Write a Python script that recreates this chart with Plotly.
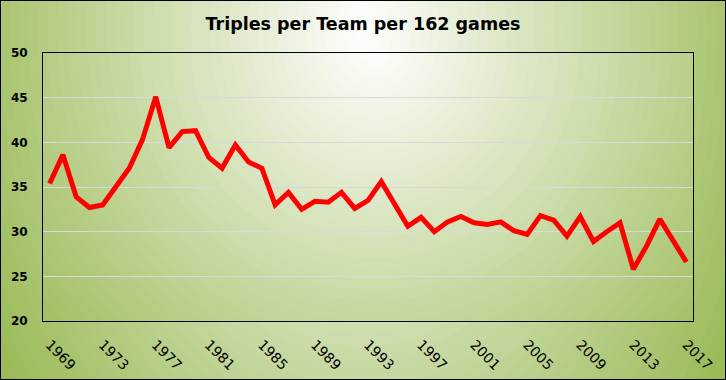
import plotly.graph_objects as go

years = list(range(1969, 2018))
triples = [35.4, 38.6, 33.9, 32.7, 33.0, 35.1, 37.1, 40.3, 45.1, 39.4,
           41.2, 41.3, 38.3, 37.1, 39.7, 37.8, 37.1, 33.0, 34.4, 32.5,
           33.4, 33.3, 34.4, 32.6, 33.5, 35.6, 33.0, 30.6, 31.6, 30.0,
           31.1, 31.7, 31.0, 30.8, 31.1, 30.1, 29.7, 31.8, 31.3, 29.5,
           31.7, 28.9, 30.0, 31.0, 25.8, 28.4, 31.4, 29.1, 26.6]
tick_years = list(range(1969, 2018, 4))
y_ticks = [20, 25, 30, 35, 40, 45, 50]
title_text = "Triples per Team per 162 games"

W, H = 726, 380
L, R, T, B = 43, 33, 53, 59
PW, PH = W - L - R, H - T - B
XMIN, XMAX = 1968.5, 2017.5
YMIN, YMAX = 20, 50

GREEN = (155, 187, 89)


def mix(t):
    t = max(0.0, min(1.0, t))
    c = [round(255 * (1 - t) + g * t) for g in GREEN]
    return "rgb(%d,%d,%d)" % tuple(c)


def px_to_paper(px, py):
    return (px - L) / PW, (H - B - py) / PH


def px_to_data(px, py):
    return XMIN + (px - L) / PW * (XMAX - XMIN), YMIN + (H - B - py) / PH * (YMAX - YMIN)


shapes = []
N = 45
# chart-area radial gradient (paper refs)
cx, cy, rx, ry = 363, 30, 430, 620
for k in range(N, 0, -1):
    t = k / N
    x0, y0 = px_to_paper(cx - rx * t, cy + ry * t)
    x1, y1 = px_to_paper(cx + rx * t, cy - ry * t)
    shapes.append(dict(type="circle", xref="paper", yref="paper", x0=x0, x1=x1, y0=y0, y1=y1,
                       fillcolor=mix(t), line=dict(width=0), layer="below"))

# plot-area radial gradient (data refs, clipped to plot area)
shapes.append(dict(type="rect", xref="x", yref="y", x0=XMIN, x1=XMAX, y0=YMIN, y1=YMAX,
                   fillcolor=mix(1), line=dict(width=0), layer="below"))
cx, cy, rx, ry = 375, 45, 460, 480
for k in range(N, 0, -1):
    t = k / N
    x0, y0 = px_to_data(cx - rx * t, cy + ry * t)
    x1, y1 = px_to_data(cx + rx * t, cy - ry * t)
    shapes.append(dict(type="circle", xref="x", yref="y", x0=x0, x1=x1, y0=y0, y1=y1,
                       fillcolor=mix(t), line=dict(width=0), layer="below"))

# outer border
shapes.append(dict(type="rect", xref="paper", yref="paper",
                   x0=-L / PW, x1=1 + R / PW, y0=-B / PH, y1=1 + T / PH,
                   line=dict(color="black", width=2), fillcolor="rgba(0,0,0,0)", layer="above"))

fig = go.Figure()
fig.add_trace(go.Scatter(x=years, y=triples, mode="lines",
                         line=dict(color="#FF0000", width=5), hoverinfo="x+y"))

fig.update_layout(
    width=W, height=H, autosize=False,
    margin=dict(l=L, r=R, t=T, b=B, pad=0),
    paper_bgcolor=mix(1), plot_bgcolor="rgba(0,0,0,0)",
    showlegend=False,
    shapes=shapes,
    title=dict(text="<b>" + title_text + "</b>", x=0.5, xref="container", xanchor="center",
               y=1 - 24 / H, yref="container", yanchor="middle",
               font=dict(family="DejaVu Sans", size=17.5, color="#000000")),
    xaxis=dict(range=[XMIN, XMAX], tickvals=tick_years, ticktext=[str(y) for y in tick_years],
               tickangle=45, showgrid=False, zeroline=False, showline=True, mirror=True,
               linecolor="black", linewidth=1, ticks="", ticklabelstandoff=9, automargin=False,
               tickfont=dict(family="DejaVu Sans", size=14, color="#000000")),
    yaxis=dict(range=[YMIN, YMAX], tickvals=y_ticks, ticktext=["<b>%d</b>" % v for v in y_ticks],
               showgrid=True, gridcolor="#d9d9d9", gridwidth=1, zeroline=False,
               showline=True, mirror=True, linecolor="black", linewidth=1, ticks="",
               ticklabelstandoff=12, automargin=False,
               tickfont=dict(family="DejaVu Sans", size=12, color="#000000")),
)

fig.write_html("out.html", post_script="document.body.style.margin='0';",
               config={"displayModeBar": False})
